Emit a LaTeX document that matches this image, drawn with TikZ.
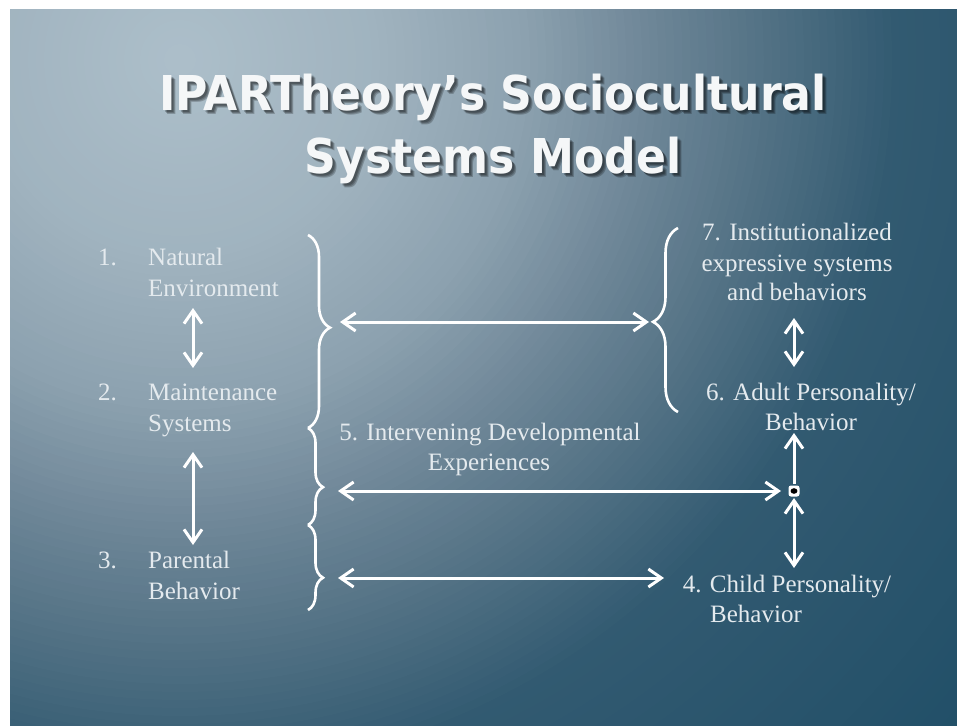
\documentclass[tikz,border=0pt]{standalone}
\usepackage{fontspec}
\setmainfont{Liberation Serif}
\newfontfamily\titlefont{DejaVu Sans}
\usetikzlibrary{arrows.meta,decorations.pathreplacing}
\definecolor{bg0}{HTML}{ADBFCA}
\definecolor{bg1}{HTML}{A0B3BF}
\definecolor{bg2}{HTML}{8CA1AF}
\definecolor{bg3}{HTML}{6F8798}
\definecolor{bg4}{HTML}{507083}
\definecolor{bg5}{HTML}{325A71}
\definecolor{bg6}{HTML}{1E4D66}
\definecolor{txt}{RGB}{228,234,238}
\definecolor{titlec}{RGB}{245,247,248}
\tikzset{
  titletxt/.style={font=\titlefont\bfseries\fontsize{48}{58}\selectfont, text=titlec, xscale=0.92, anchor=base, inner sep=0},
  shadowtxt/.style={titletxt, text=black, opacity=0.22},
  body/.style={font=\fontsize{25}{31}\selectfont, text=txt, inner sep=0},
  arr/.style={draw=white, line width=3pt, arrows={Straight Barb[length=13pt,width=18pt]-Straight Barb[length=13pt,width=18pt]}},
  arrone/.style={draw=white, line width=3pt, arrows={-Straight Barb[length=13pt,width=18pt]}},
  brc/.style={draw=white, line width=2.6pt, decorate},
  dotbox/.style={fill=white, rounded corners=2.5pt, minimum size=11pt, inner sep=0}
}
\begin{document}
\begin{tikzpicture}[x=1pt,y=-1pt]
\useasboundingbox (0,0) rectangle (957,725);
\fill[white] (0,0) rectangle (957,725);
\begin{scope}
  \clip (10,10) rectangle (957,725);
  \fill[bg6] (10,10) rectangle (957,725);
  % layered radial gradient centred near the top-left
  \foreach \ra/\rb/\ca/\cb in {1100/720/bg6/bg5, 720/600/bg5/bg4, 600/470/bg4/bg3, 470/350/bg3/bg2, 350/200/bg2/bg1, 200/0/bg1/bg0} {
    \pgfmathsetmacro{\rstep}{(\ra-\rb)/int((\ra-\rb)/8)}
    \pgfmathsetmacro{\rnext}{\ra-\rstep}
    \foreach \r in {\ra,\rnext,...,\rb} {
      \pgfmathsetmacro{\p}{max(0,min(100,(\r-\rb)/(\ra-\rb)*100))}
      \pgfmathsetmacro{\rr}{max(\r,0.5)}
      \fill[\ca!\p!\cb] (180,60) circle[radius=\rr];
    }
  }
\end{scope}

% title shadow
\foreach \d in {2,3,4} {
  \node[shadowtxt] (tsa\d) at (493+\d,110+\d) {IPARTheory’s Sociocultural};
  \node[shadowtxt] (tsb\d) at (493+\d,173+\d) {Systems Model};
}
\node[titletxt] (t1) at (493,110) {IPARTheory’s Sociocultural};
\node[titletxt] (t2) at (493,173) {Systems Model};

% left column
\node[body,anchor=base west] (n1)  at (98,265)  {1.};
\node[body,anchor=base west] (n1a) at (148,265) {Natural};
\node[body,anchor=base west] (n1b) at (148,296) {Environment};
\node[body,anchor=base west] (n2)  at (98,400)  {2.};
\node[body,anchor=base west] (n2a) at (148,400) {Maintenance};
\node[body,anchor=base west] (n2b) at (148,431) {Systems};
\node[body,anchor=base west] (n3)  at (98,568)  {3.};
\node[body,anchor=base west] (n3a) at (148,568) {Parental};
\node[body,anchor=base west] (n3b) at (148,599) {Behavior};

% right column
\node[body,anchor=base] (n7a) at (797,240) {7. Institutionalized};
\node[body,anchor=base] (n7b) at (797,271) {expressive systems};
\node[body,anchor=base] (n7c) at (797,300) {and behaviors};
\node[body,anchor=base] (n6a) at (811,400) {6. Adult Personality/};
\node[body,anchor=base] (n6b) at (811,430) {Behavior};
\node[body,anchor=base] (n4a) at (787,592) {4. Child Personality/};
\node[body,anchor=base west] (n4b) at (710,622) {Behavior};
\node[body,anchor=base] (n5a) at (490,440) {5. Intervening Developmental};
\node[body,anchor=base] (n5b) at (489,470) {Experiences};

% braces
\draw[brc, decoration={brace,amplitude=22pt,aspect=0.48}] (308,235) -- (308,428);
\draw[brc, decoration={brace,amplitude=15pt,aspect=0.61}] (308,428) -- (308,525);
\draw[brc, decoration={brace,amplitude=15pt,aspect=0.62}] (308,525) -- (308,610);
\draw[brc, decoration={brace,amplitude=25pt,aspect=0.49}] (678,412) -- (678,228);

% connector end points
\coordinate (bA) at (340,322);
\coordinate (bR) at (649,322);
\coordinate (bB) at (338,491);
\coordinate (bC) at (338,578);
\coordinate (c4) at (664,578);
\coordinate (l1) at (193,308);
\coordinate (l2t) at (193,368);
\coordinate (l2b) at (193,452);
\coordinate (l3) at (193,545);
\coordinate (r7) at (794,318);
\coordinate (r6t) at (794,367);
\coordinate (r6b) at (794,433);
\coordinate (r4) at (794,568);

\node[dotbox] (dot) at (794,491) {};
\fill[black] (dot.center) ellipse[x radius=3.4, y radius=2.8];
\coordinate (dotw) at (781,491);
\coordinate (dotn) at (794,484);
\coordinate (dots) at (794,498);

% connectors
\draw[arr] (bA) -- (bR);
\draw[arr] (bB) -- (dotw);
\draw[arr] (bC) -- (c4);
\draw[arr] (l1) -- (l2t);
\draw[arr] (l2b) -- (l3);
\draw[arr] (r7) -- (r6t);
\draw[arrone] (dotn) -- (r6b);
\draw[arr] (dots) -- (r4);
\end{tikzpicture}
\end{document}
